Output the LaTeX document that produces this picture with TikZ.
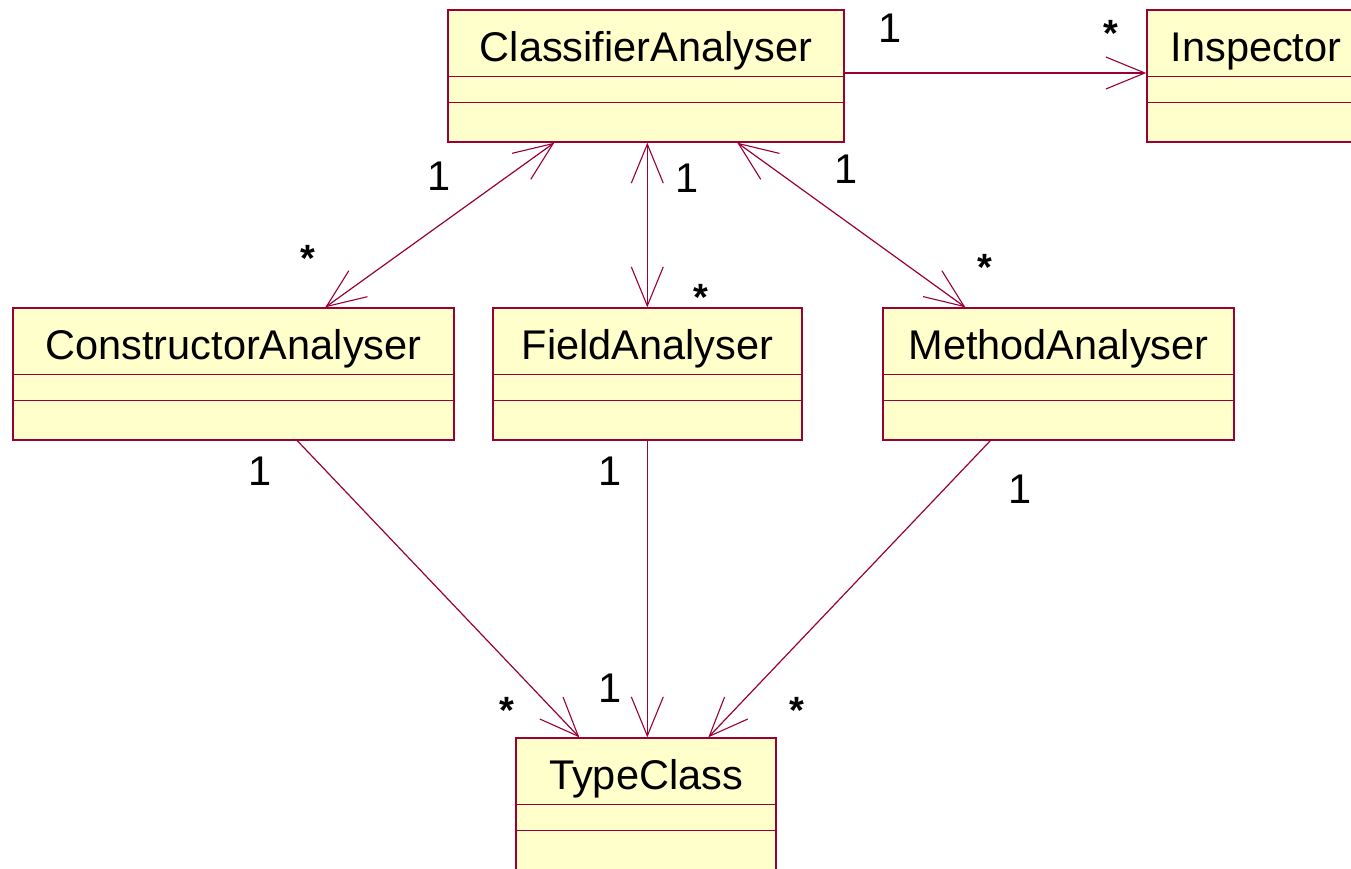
\documentclass[tikz,border=0pt]{standalone}
\usepackage{fontspec}
\setmainfont{Liberation Sans}
\usetikzlibrary{arrows.meta,calc}
\definecolor{umlline}{RGB}{153,0,51}
\definecolor{umlfill}{RGB}{255,255,204}
\tikzset{
  classbox/.style={rectangle, draw=umlline, fill=umlfill, line width=1.4pt, inner sep=0pt},
  classname/.style={anchor=base, inner sep=0pt, font=\fontsize{41.5}{48}\selectfont},
  divider/.style={draw=umlline, line width=1.1pt},
  assoc/.style={draw=umlline, line width=1.2pt},
  openv/.tip={Straight Barb[length=39pt,width=32pt,line width=1.1pt]},
  mult/.style={anchor=base, inner sep=0pt, font=\fontsize{41.5}{48}\selectfont},
  many/.style={mult, font=\fontsize{38}{44}\selectfont\bfseries},
}
% a class box: name, centre, width, height, title
\newcommand\umlclass[5]{%
  \node[classbox, minimum width=#3, minimum height=#4] (#1) at #2 {};
  \node[classname] (#1-name) at ($(#1.north)+(0,52)$) {#5};
  \draw[divider] ($(#1.north west)+(0,67)$) -- ($(#1.north east)+(0,67)$);
  \draw[divider] ($(#1.north west)+(0,93)$) -- ($(#1.north east)+(0,93)$);
}
\begin{document}
\begin{tikzpicture}[x=1pt, y=-1pt]
  \clip (0,0) rectangle (1351,868);
  \fill[white] (0,0) rectangle (1351,868);

  \umlclass{ca}{(646,76)}{396pt}{132pt}{ClassifierAnalyser}
  \umlclass{ins}{(1256,76)}{218pt}{132pt}{Inspector}
  \umlclass{con}{(233.5,374)}{441pt}{132pt}{ConstructorAnalyser}
  \umlclass{fld}{(647.5,374)}{309pt}{132pt}{FieldAnalyser}
  \umlclass{met}{(1058.5,374)}{351pt}{132pt}{MethodAnalyser}
  \umlclass{tc}{(646,804)}{260pt}{132pt}{TypeClass}

  % associations
  \draw[assoc, -{openv}] ($(ca.east)+(0,-3)$) -- ($(ins.west)+(0,-3)$);
  \draw[assoc, {openv}-{openv}] ($(ca.south west)+(107,0)$) -- ($(con.north west)+(313,0)$);
  \draw[assoc, {openv}-{openv}] ($(ca.south west)+(200,0)$) -- ($(fld.north west)+(155,0)$);
  \draw[assoc, {openv}-{openv}] ($(ca.south west)+(290,0)$) -- ($(met.north west)+(83,0)$);
  \draw[assoc, -{openv}] ($(con.south west)+(285,0)$) -- ($(tc.north west)+(64,0)$);
  \draw[assoc, -{openv}] ($(fld.south west)+(155,0)$) -- ($(tc.north west)+(132,0)$);
  \draw[assoc, -{openv}] ($(met.south west)+(108,0)$) -- ($(tc.north west)+(193,0)$);

  % multiplicities
  \node[mult] (m1) at (890,42) {1};
  \node[many] (m2) at (1111,46) {*};
  \node[mult] (m3) at (439,190) {1};
  \node[many] (m4) at (308,271) {*};
  \node[mult] (m5) at (687,192) {1};
  \node[many] (m6) at (701,310) {*};
  \node[mult] (m7) at (846,183) {1};
  \node[many] (m8) at (985,280) {*};
  \node[mult] (m9) at (260,485) {1};
  \node[mult] (m10) at (610,485) {1};
  \node[mult] (m11) at (1020,503) {1};
  \node[many] (m12) at (507,723) {*};
  \node[mult] (m13) at (610,702) {1};
  \node[many] (m14) at (797,723) {*};
\end{tikzpicture}
\end{document}
